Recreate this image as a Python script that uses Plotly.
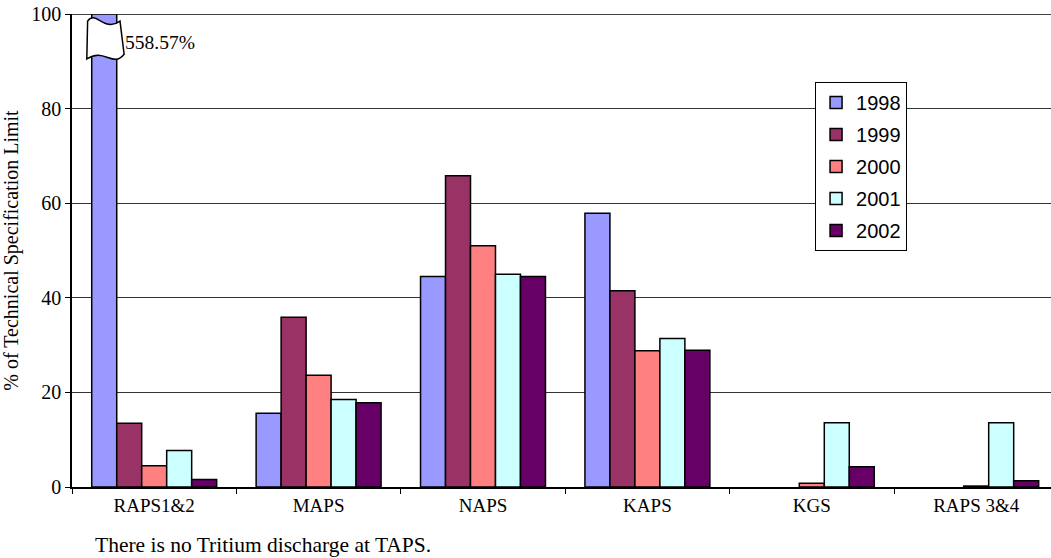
import plotly.graph_objects as go

categories = ["RAPS1&2", "MAPS", "NAPS", "KAPS", "KGS", "RAPS 3&4"]
years = ["1998", "1999", "2000", "2001", "2002"]
values_1998 = [558.57, 15.6, 44.5, 57.9, None, None]
values_1999 = [13.5, 35.9, 65.8, 41.5, None, None]
values_2000 = [4.5, 23.6, 51.0, 28.8, 0.8, 0.2]
values_2001 = [7.7, 18.5, 45.0, 31.4, 13.6, 13.6]
values_2002 = [1.6, 17.8, 44.5, 28.9, 4.3, 1.3]
colors = ["#9999FF", "#993366", "#FF8080", "#CCFFFF", "#660066"]

serif = "Liberation Serif"
sans = "Liberation Sans"

series = [values_1998, values_1999, values_2000, values_2001, values_2002]
x_pos = list(range(len(categories)))
bargap = 0.24
bar_w = (1 - bargap) / len(years)

fig = go.Figure()
for yr, vals, col in zip(years, series, colors):
    fig.add_trace(go.Bar(
        x=x_pos, y=vals, name=yr, legendgroup=yr,
        marker=dict(color=col, line=dict(color="black", width=1.5)),
    ))

# axis break marker on the off-scale bar
y_max = 100
off_idx = 0
cx = x_pos[off_idx] - 2 * bar_w
hw = bar_w / 2 + 0.03
top, bot = y_max - 1.5, y_max - 9.5
path = (
    f"M {cx-hw+0.005},{top} "
    f"C {cx-hw/2},{top+2.5} {cx},{top-2.5} {cx+hw-0.01},{top} "
    f"L {cx+hw+0.015},{bot+1} "
    f"C {cx+hw/2},{bot-2} {cx},{bot+2.5} {cx-hw},{bot} Z"
)
fig.add_shape(type="path", path=path, xref="x", yref="y",
              fillcolor="white", line=dict(color="black", width=1.5))

fig.add_annotation(x=cx + hw, y=y_max - 6, xref="x", yref="y",
                   text=f"{values_1998[off_idx]:.2f}%", showarrow=False,
                   xanchor="left", xshift=1,
                   font=dict(family=serif, size=19.5, color="black"))

fig.add_annotation(x=0.021, y=-0.1226, xref="paper", yref="paper",
                   text="There is no Tritium discharge at TAPS.",
                   showarrow=False, xanchor="left", yanchor="middle",
                   font=dict(family=serif, size=21.5, color="black"))

fig.update_layout(
    width=1051, height=558,
    margin=dict(l=72, r=0, t=14, b=71),
    paper_bgcolor="white", plot_bgcolor="white",
    barmode="group", bargap=bargap, bargroupgap=0,
    legend=dict(x=0.759, y=0.856, xanchor="left", yanchor="top",
                bordercolor="black", borderwidth=1, bgcolor="white",
                font=dict(family=sans, size=20, color="black"),
                itemwidth=30, tracegroupgap=3),
    font=dict(family=serif, size=20, color="black"),
)
fig.update_xaxes(
    range=[-0.5, 5.455], tickmode="array", tickvals=x_pos, ticktext=categories,
    ticks="", showline=True, linecolor="black", linewidth=1.5,
    tickfont=dict(family=serif, size=19),
    minor=dict(tick0=0.5, dtick=1, ticks="outside", ticklen=5,
               tickcolor="black", showgrid=False),
    showgrid=False, zeroline=False,
)
fig.update_yaxes(
    range=[0, y_max], tickvals=[0, 20, 40, 60, 80, 100],
    ticks="outside", ticklen=5, tickcolor="black",
    showline=True, linecolor="black", linewidth=1.5,
    showgrid=True, gridcolor="#333333", gridwidth=1,
    zeroline=False,
    title=dict(text="% of Technical Specification Limit", standoff=9,
               font=dict(family=serif, size=20)),
    tickfont=dict(family=serif, size=20),
)
fig.add_shape(type="line", xref="paper", yref="y", x0=0, x1=1, y0=y_max, y1=y_max,
              line=dict(color="black", width=1.5))

fig.write_html("out.html")
